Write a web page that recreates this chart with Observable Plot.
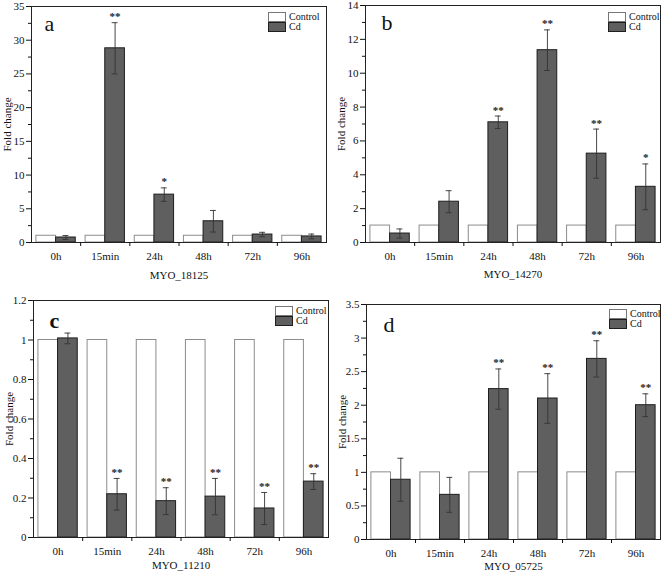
<!DOCTYPE html>
<html>
<head>
<meta charset="utf-8">
<script src="https://cdn.jsdelivr.net/npm/d3@7"></script>
<script src="https://cdn.jsdelivr.net/npm/@observablehq/plot@0.6"></script>
<style>
  body { margin: 0; background: #fff; }
  #wrap { position: relative; width: 661px; height: 576px; overflow: hidden; font-family: "Liberation Serif", "Times New Roman", serif; }
  .panel { position: absolute; }
  .legend { position: absolute; font-size: 10px; line-height: 10px; color: #111; }
  .legend .row { display: flex; align-items: center; height: 10px; }
  .legend .sw { width: 16px; height: 8px; margin-right: 3px; box-sizing: content-box; }
</style>
</head>
<body>
<div id="wrap"></div>
<script>
// ---- data ----
const times = ["0h", "15min", "24h", "48h", "72h", "96h"];
const series = ["Control", "Cd"];

// Panel a: MYO_18125
const ctrlA = [1, 1, 1, 1, 1, 1];
const cdA   = [0.74, 28.8, 7.1, 3.15, 1.18, 0.9];
const errA  = [0.29, 3.8, 1.0, 1.6, 0.33, 0.35];
const sigA  = ["", "**", "*", "", "", ""];

// Panel b: MYO_14270
const ctrlB = [1, 1, 1, 1, 1, 1];
const cdB   = [0.53, 2.41, 7.1, 11.36, 5.25, 3.29];
const errB  = [0.27, 0.65, 0.37, 1.2, 1.45, 1.35];
const sigB  = ["", "", "**", "**", "**", "*"];

// Panel c: MYO_11210
const ctrlC = [1, 1, 1, 1, 1, 1];
const cdC   = [1.008, 0.219, 0.184, 0.207, 0.147, 0.283];
const errC  = [0.027, 0.08, 0.068, 0.092, 0.081, 0.04];
const sigC  = ["", "**", "**", "**", "**", "**"];

// Panel d: MYO_05725
const ctrlD = [1, 1, 1, 1, 1, 1];
const cdD   = [0.89, 0.665, 2.24, 2.1, 2.69, 2.0];
const errD  = [0.32, 0.26, 0.3, 0.37, 0.27, 0.17];
const sigD  = ["", "", "**", "**", "**", "**"];

const panels = [
  {letter: "a", gene: "MYO_18125", ctrl: ctrlA, cd: cdA, err: errA, sig: sigA,
   yMax: 35, major: 5, left: 0, top: 0, width: 330, height: 288,
   m: {l: 31, r: 4, t: 6, b: 46}, legend: {x: 268, y: 12}, lx: 13, ly: 9, lw: "normal", xo: 36},
  {letter: "b", gene: "MYO_14270", ctrl: ctrlB, cd: cdB, err: errB, sig: sigB,
   yMax: 14, major: 2, left: 330, top: 0, width: 331, height: 288,
   m: {l: 35, r: 1, t: 5, b: 46}, legend: {x: 608, y: 12}, lx: 16, ly: 9, lw: "normal", xo: 35},
  {letter: "c", gene: "MYO_11210", ctrl: ctrlC, cd: cdC, err: errC, sig: sigC,
   yMax: 1.2, major: 0.2, left: 0, top: 288, width: 330, height: 288,
   m: {l: 33, r: 2, t: 12, b: 39}, legend: {x: 275, y: 306}, lx: 16, ly: 12, lw: "bold", xo: 31},
  {letter: "d", gene: "MYO_05725", ctrl: ctrlD, cd: cdD, err: errD, sig: sigD,
   yMax: 3.5, major: 0.5, left: 330, top: 288, width: 331, height: 288,
   m: {l: 36, r: 1, t: 16, b: 37}, legend: {x: 609, y: 309}, lx: 17, ly: 12, lw: "normal", xo: 30}
];

const CD_FILL = "#5f5f5f";
const CD_STROKE = "#1e1e1e";
const CTRL_STROKE = "#8c8c8c";
const fmt = d3.format("~g");
const wrap = document.getElementById("wrap");

for (const p of panels) {
  const rows = times.map((t, i) => ({i, t, ctrl: p.ctrl[i], cd: p.cd[i], err: p.err[i], sig: p.sig[i]}));
  const nMajor = Math.round(p.yMax / p.major);
  const majorTicks = d3.range(nMajor + 1).map(k => +(k * p.major).toFixed(4));
  const minorTicks = d3.range(nMajor).map(k => +((k + 0.5) * p.major).toFixed(4));
  const bounds = d3.range(times.length - 1).map(i => i + 0.5);

  const chart = Plot.plot({
    width: p.width,
    height: p.height,
    marginLeft: p.m.l,
    marginRight: p.m.r,
    marginTop: p.m.t,
    marginBottom: p.m.b,
    style: {fontFamily: "'Liberation Serif', 'Times New Roman', serif", fontSize: "11px", color: "#111", background: "white"},
    x: {domain: [-0.5, times.length - 0.5]},
    y: {domain: [0, p.yMax]},
    marks: [
      Plot.rectY(rows, {x1: d => d.i - 0.4, x2: d => d.i, y: "ctrl", fill: "white", stroke: CTRL_STROKE, strokeWidth: 1}),
      Plot.rectY(rows, {x1: d => d.i, x2: d => d.i + 0.4, y: "cd", fill: CD_FILL, stroke: CD_STROKE, strokeWidth: 1}),
      Plot.ruleX(rows, {x: d => d.i + 0.2, y1: d => d.cd - d.err, y2: d => d.cd + d.err, stroke: "#333", strokeWidth: 0.9}),
      Plot.ruleY(rows, {y: d => d.cd + d.err, x1: d => d.i + 0.14, x2: d => d.i + 0.26, stroke: "#333", strokeWidth: 0.9}),
      Plot.ruleY(rows, {y: d => d.cd - d.err, x1: d => d.i + 0.14, x2: d => d.i + 0.26, stroke: "#333", strokeWidth: 0.9}),
      Plot.text(rows.filter(d => d.sig), {x: d => d.i + 0.2, y: d => d.cd + d.err, text: "sig", dy: -6, fontSize: 11, fontWeight: "bold", fill: "#222"}),
      Plot.text([p.letter], {frameAnchor: "top-left", text: d => d, dx: p.lx, dy: p.ly, fontSize: 22, fontWeight: p.lw, fill: "#111"}),
      Plot.frame({stroke: "#222", strokeWidth: 1}),
      Plot.axisY({ticks: majorTicks, tickSize: 5, tickPadding: 2, tickFormat: fmt, label: "Fold change", labelArrow: false, labelAnchor: "center", labelOffset: 28}),
      Plot.axisY({ticks: minorTicks, tickSize: 3, tickFormat: () => "", label: null}),
      Plot.axisX({ticks: d3.range(times.length), tickSize: 0, tickPadding: 10, tickFormat: i => times[i], label: p.gene, labelArrow: false, labelAnchor: "center", labelOffset: p.xo}),
      Plot.axisX({ticks: bounds, tickSize: 4, tickFormat: () => "", label: null})
    ]
  });
  chart.classList.add("panel");
  chart.style.left = p.left + "px";
  chart.style.top = p.top + "px";
  wrap.appendChild(chart);

  const lg = document.createElement("div");
  lg.className = "legend";
  lg.style.left = p.legend.x + "px";
  lg.style.top = p.legend.y + "px";
  series.forEach((s, k) => {
    const row = document.createElement("div");
    row.className = "row";
    const sw = document.createElement("span");
    sw.className = "sw";
    sw.style.background = k === 0 ? "white" : CD_FILL;
    sw.style.border = "1px solid " + (k === 0 ? "#777" : CD_STROKE);
    const tx = document.createElement("span");
    tx.textContent = s;
    row.appendChild(sw);
    row.appendChild(tx);
    lg.appendChild(row);
  });
  wrap.appendChild(lg);
}
</script>
</body>
</html>
